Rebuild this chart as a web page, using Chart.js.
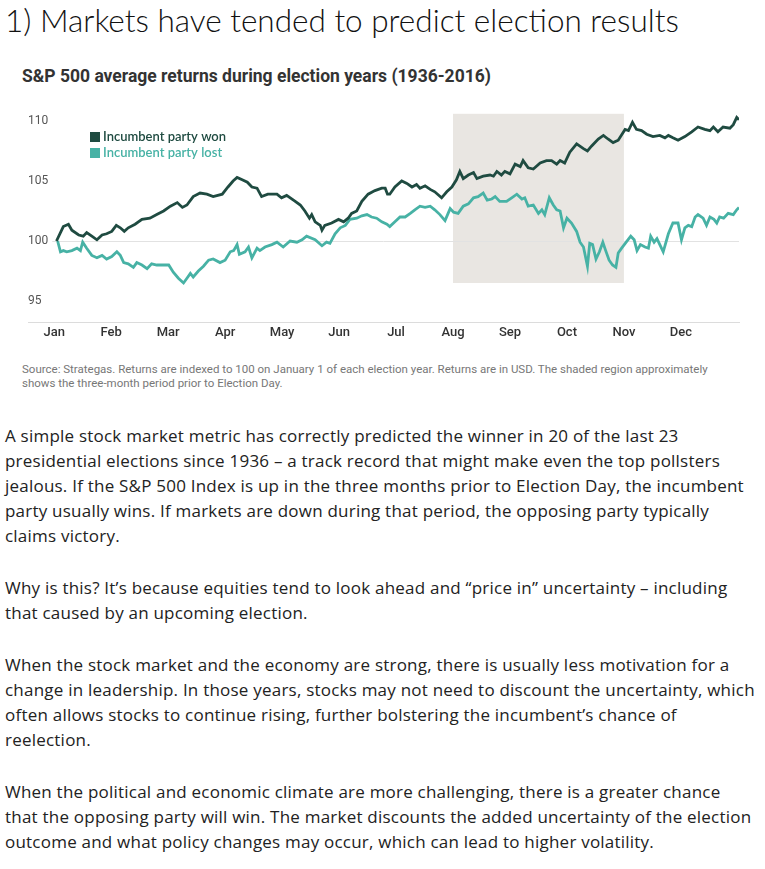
<!DOCTYPE html>
<html>
<head>
<meta charset="utf-8">
<script src="https://cdn.jsdelivr.net/npm/chart.js@4.4.0/dist/chart.umd.min.js"></script>
<style>
  body { margin: 0; background: #fff; width: 765px; height: 869px; overflow: hidden; position: relative; font-family: "Open Sans", sans-serif; }
  h1 { position: absolute; left: 5px; top: 1px; margin: 0; font-family: "Lato", sans-serif; font-weight: 300; font-size: 31.5px; color: #111; white-space: nowrap; }
  .subtitle { position: absolute; left: 22px; top: 66px; font-family: "Roboto", sans-serif; font-weight: 700; font-size: 17.5px; color: #333; white-space: nowrap; }
  .chartbox { position: absolute; left: 0; top: 100px; width: 765px; height: 250px; }
  .source { position: absolute; left: 22px; top: 362px; font-family: "Roboto", sans-serif; font-size: 11.5px; line-height: 14px; color: #777; white-space: nowrap; }
  .body { position: absolute; left: 5px; top: 423px; font-size: 17px; letter-spacing: 0.22px; line-height: 25px; color: #222; white-space: nowrap; }
  .body p { margin: 0 0 27px 0; }
</style>
</head>
<body>
<h1>1) Markets have tended to predict election results</h1>
<div class="subtitle">S&amp;P 500 average returns during election years (1936-2016)</div>
<div class="chartbox"><canvas id="mainChart"></canvas></div>
<div class="source">Source: Strategas. Returns are indexed to 100 on January 1 of each election year. Returns are in USD. The shaded region approximately<br>shows the three-month period prior to Election Day.</div>
<div class="body">
<p>A simple stock market metric has correctly predicted the winner in 20 of the last 23<br>presidential elections since 1936 – a track record that might make even the top pollsters<br>jealous. If the S&amp;P 500 Index is up in the three months prior to Election Day, the incumbent<br>party usually wins. If markets are down during that period, the opposing party typically<br>claims victory.</p>
<p>Why is this? It’s because equities tend to look ahead and “price in” uncertainty – including<br>that caused by an upcoming election.</p>
<p>When the stock market and the economy are strong, there is usually less motivation for a<br>change in leadership. In those years, stocks may not need to discount the uncertainty, which<br>often allows stocks to continue rising, further bolstering the incumbent’s chance of<br>reelection.</p>
<p>When the political and economic climate are more challenging, there is a greater chance<br>that the opposing party will win. The market discounts the added uncertainty of the election<br>outcome and what policy changes may occur, which can lead to higher volatility.</p>
</div>
<script>
// x is months since Jan 1 (0 = Jan, 11 = Dec)
var monthLabels = ["Jan", "Feb", "Mar", "Apr", "May", "Jun", "Jul", "Aug", "Sep", "Oct", "Nov", "Dec"];
var yTicks = [95, 100, 105, 110];

var wonMonths = [0.04, 0.16, 0.25, 0.31, 0.43, 0.51, 0.57, 0.66, 0.75, 0.84, 0.92, 1.01, 1.09, 1.16, 1.23, 1.30, 1.42, 1.54, 1.68, 1.80,
  1.92, 2.04, 2.16, 2.25, 2.33, 2.44, 2.56, 2.68, 2.79, 2.95, 3.05, 3.14, 3.21, 3.30, 3.39, 3.47, 3.56, 3.64, 3.75, 3.91,
  3.99, 4.08, 4.20, 4.32, 4.40, 4.48, 4.52, 4.58, 4.67, 4.70, 4.75, 4.87, 4.99, 5.08, 5.16, 5.22, 5.31, 5.40, 5.51, 5.63,
  5.75, 5.81, 5.85, 5.89, 5.98, 6.10, 6.19, 6.28, 6.36, 6.42, 6.51, 6.60, 6.68, 6.80, 6.89, 6.98, 7.06, 7.12, 7.18, 7.27,
  7.36, 7.42, 7.53, 7.65, 7.71, 7.77, 7.85, 7.91, 8.00, 8.09, 8.18, 8.23, 8.32, 8.41, 8.53, 8.64, 8.73, 8.82, 8.88, 8.96,
  9.05, 9.17, 9.29, 9.36, 9.43, 9.55, 9.64, 9.72, 9.81, 9.90, 10.02, 10.08, 10.15, 10.22, 10.31, 10.40, 10.51, 10.63, 10.72, 10.78,
  10.86, 10.95, 11.07, 11.19, 11.30, 11.42, 11.51, 11.57, 11.65, 11.74, 11.86, 11.92, 11.98, 12.02];
var wonValues = [100.0, 101.2, 101.4, 100.9, 100.5, 100.4, 100.7, 100.4, 100.1, 100.5, 100.6, 100.8, 101.3, 101.1, 100.8, 101.1, 101.4, 101.8, 101.9, 102.2,
  102.5, 102.9, 103.2, 102.8, 103.0, 103.7, 104.0, 103.9, 103.7, 103.9, 104.5, 105.0, 105.3, 105.1, 104.9, 104.5, 104.4, 103.7, 103.9, 103.9,
  103.6, 103.8, 103.4, 103.0, 102.5, 101.9, 102.2, 101.6, 101.3, 100.9, 101.3, 101.5, 101.8, 101.6, 101.9, 102.3, 102.5, 103.3, 103.9, 104.2,
  104.4, 104.4, 103.9, 103.9, 104.5, 105.0, 104.8, 104.5, 104.7, 104.4, 104.6, 104.3, 104.1, 103.6, 104.1, 104.5, 105.1, 105.8, 105.2, 105.5,
  105.7, 105.2, 105.4, 105.5, 105.4, 105.8, 105.5, 105.8, 105.6, 106.4, 106.2, 106.7, 106.1, 106.0, 106.5, 106.7, 106.7, 106.4, 106.7, 106.5,
  107.4, 108.1, 107.7, 107.5, 107.9, 108.5, 108.8, 108.5, 108.2, 108.4, 109.3, 109.2, 109.9, 109.3, 109.2, 108.9, 108.7, 108.8, 108.6, 108.8,
  108.6, 108.4, 108.7, 109.1, 109.5, 109.3, 109.2, 109.5, 109.1, 109.5, 109.4, 109.7, 110.3, 110.1];

var lostMonths = [0.06, 0.11, 0.16, 0.22, 0.31, 0.40, 0.46, 0.50, 0.57, 0.66, 0.75, 0.84, 0.92, 1.01, 1.10, 1.16, 1.22, 1.30, 1.39, 1.45,
  1.54, 1.63, 1.71, 1.80, 1.92, 2.01, 2.09, 2.18, 2.27, 2.33, 2.39, 2.44, 2.53, 2.62, 2.71, 2.79, 2.91, 3.00, 3.09, 3.15,
  3.21, 3.25, 3.35, 3.41, 3.47, 3.56, 3.61, 3.70, 3.82, 3.91, 4.02, 4.14, 4.26, 4.35, 4.43, 4.58, 4.70, 4.78, 4.84, 4.93,
  5.02, 5.11, 5.19, 5.31, 5.40, 5.49, 5.57, 5.66, 5.75, 5.84, 5.89, 5.98, 6.07, 6.16, 6.25, 6.33, 6.42, 6.51, 6.60, 6.68,
  6.77, 6.86, 6.95, 7.01, 7.09, 7.18, 7.27, 7.36, 7.44, 7.53, 7.60, 7.68, 7.74, 7.82, 7.94, 8.03, 8.12, 8.21, 8.26, 8.32,
  8.41, 8.50, 8.56, 8.61, 8.69, 8.76, 8.82, 8.88, 8.94, 9.00, 9.08, 9.17, 9.23, 9.29, 9.36, 9.40, 9.45, 9.51, 9.57, 9.63,
  9.68, 9.74, 9.80, 9.86, 9.90, 9.96, 10.04, 10.12, 10.18, 10.23, 10.29, 10.37, 10.43, 10.47, 10.53, 10.58, 10.63, 10.69, 10.78, 10.86,
  10.95, 11.01, 11.07, 11.13, 11.19, 11.25, 11.30, 11.39, 11.45, 11.51, 11.58, 11.63, 11.68, 11.75, 11.83, 11.92, 11.98, 12.02];
var lostValues = [100.0, 99.1, 99.2, 99.1, 99.2, 99.4, 99.2, 99.9, 99.4, 98.8, 98.6, 98.8, 98.5, 98.7, 99.1, 98.8, 98.2, 98.1, 97.8, 98.2,
  98.0, 97.7, 98.1, 98.0, 98.0, 98.0, 97.4, 96.9, 96.5, 96.9, 97.3, 97.0, 97.5, 97.9, 98.4, 98.5, 98.2, 98.4, 99.1, 99.2,
  99.7, 98.9, 99.1, 99.5, 98.6, 99.4, 99.2, 99.5, 99.7, 99.9, 99.5, 100.0, 99.9, 100.1, 100.4, 100.1, 99.6, 99.9, 99.8, 100.6,
  101.1, 101.3, 101.8, 101.9, 102.1, 102.2, 102.0, 101.9, 101.6, 101.4, 101.2, 101.6, 102.0, 102.0, 102.3, 102.6, 102.9, 102.8, 102.9, 102.6,
  102.2, 101.7, 102.7, 102.4, 102.3, 102.9, 103.1, 103.6, 103.7, 104.0, 103.4, 103.5, 103.7, 103.3, 103.3, 103.6, 103.9, 103.5, 103.6, 102.9,
  103.0, 102.3, 102.6, 102.2, 103.6, 103.0, 102.6, 102.5, 101.1, 101.9, 101.5, 100.8, 99.9, 99.5, 97.9, 99.8, 99.7, 98.5, 99.1, 99.9,
  99.2, 98.4, 98.0, 97.8, 99.0, 99.4, 99.9, 100.4, 100.1, 99.2, 99.7, 99.5, 99.4, 100.4, 99.9, 100.2, 99.7, 99.1, 100.6, 101.5,
  101.5, 100.1, 101.1, 101.3, 101.2, 102.0, 102.2, 101.9, 101.3, 102.0, 101.8, 101.5, 102.0, 101.9, 102.3, 102.2, 102.6, 102.8];

// shaded three months before election day
var shadeMonths = [7, 10];
var shadeValues = [96.5, 110.6];

function toPoints(xs, ys) {
  return xs.map(function (x, i) { return { x: x, y: ys[i] }; });
}

var shadePlugin = {
  id: "shade",
  beforeDraw: function (chart) {
    var ctx = chart.ctx, x = chart.scales.x, y = chart.scales.y;
    var left = x.getPixelForValue(shadeMonths[0]), right = x.getPixelForValue(shadeMonths[1]);
    var top = y.getPixelForValue(shadeValues[1]), bottom = y.getPixelForValue(shadeValues[0]);
    ctx.save();
    ctx.fillStyle = "#e9e6e2";
    ctx.fillRect(left, top, right - left, bottom - top);
    ctx.restore();
  }
};

// legend sits inside the plot, top left
var legendPlugin = {
  id: "insideLegend",
  afterDatasetsDraw: function (chart) {
    var ctx = chart.ctx, area = chart.chartArea;
    ctx.save();
    ctx.font = "600 13px Lato";
    ctx.textBaseline = "middle";
    chart.data.datasets.forEach(function (ds, i) {
      var lx = area.left + 62, ly = area.top + 25 + i * 16;
      ctx.fillStyle = ds.borderColor;
      ctx.fillRect(lx, ly - 5, 10, 10);
      ctx.fillText(ds.label, lx + 13, ly);
    });
    ctx.restore();
  }
};

var ctx = document.getElementById("mainChart").getContext("2d");
var chart = new Chart(ctx, {
  type: "line",
  data: {
    datasets: [
      {
        label: "Incumbent party won",
        data: toPoints(wonMonths, wonValues),
        borderColor: "#1f4b41",
        borderWidth: 2.8,
        pointRadius: 0,
        tension: 0
      },
      {
        label: "Incumbent party lost",
        data: toPoints(lostMonths, lostValues),
        borderColor: "#47b2a5",
        borderWidth: 2.8,
        pointRadius: 0,
        tension: 0
      }
    ]
  },
  options: {
    responsive: true,
    maintainAspectRatio: false,
    animation: false,
    layout: { padding: { left: 28, right: 26, top: 12, bottom: 0 } },
    plugins: { legend: { display: false }, tooltip: { enabled: false } },
    scales: {
      x: {
        type: "linear",
        min: -0.46,
        max: 12.02,
        afterBuildTicks: function (scale) {
          scale.ticks = monthLabels.map(function (m, i) { return { value: i }; });
        },
        afterFit: function (scale) { scale.height = 28; },
        grid: { display: false, drawTicks: false },
        border: { display: true, color: "#dcdcdc", width: 1 },
        ticks: {
          autoSkip: false,
          maxRotation: 0,
          padding: 3,
          color: "#333",
          font: { family: "Roboto", size: 13, weight: "500" },
          callback: function (value) { return monthLabels[value]; }
        }
      },
      y: {
        min: 93.25,
        max: 110.75,
        afterBuildTicks: function (scale) {
          scale.ticks = yTicks.map(function (v) { return { value: v }; });
        },
        afterFit: function (scale) { scale.width = 0; },
        border: { display: false },
        grid: {
          drawTicks: false,
          color: function (c) { return c.tick && c.tick.value === 100 ? "#e2e2e2" : "rgba(0,0,0,0)"; }
        },
        ticks: {
          mirror: true,
          padding: 0,
          color: "#555",
          font: { family: "Roboto", size: 12 },
          showLabelBackdrop: true,
          backdropColor: "#ffffff",
          backdropPadding: { top: 0, bottom: 0, left: 0, right: 4 }
        }
      }
    }
  },
  plugins: [shadePlugin, legendPlugin]
});
</script>
</body>
</html>
